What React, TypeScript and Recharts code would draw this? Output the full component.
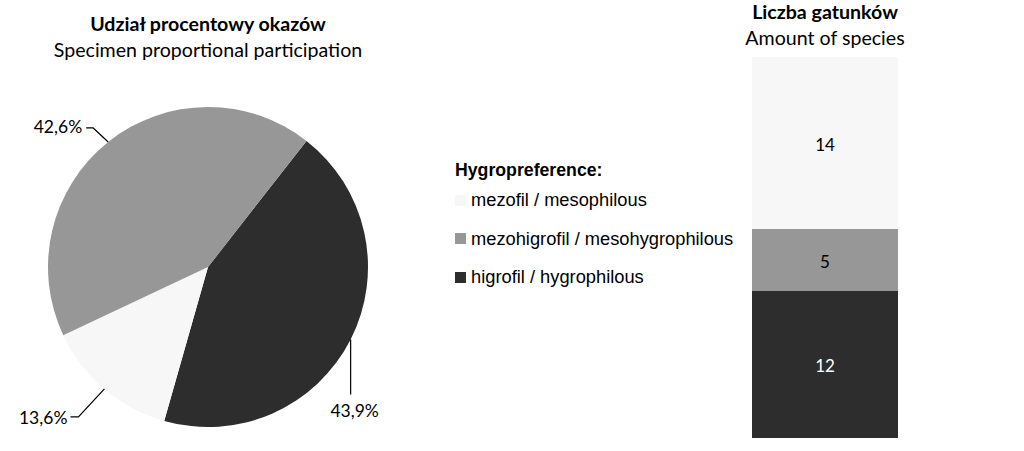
import React from 'react';
import { PieChart, Pie, Cell, BarChart, Bar, XAxis, YAxis, LabelList } from 'recharts';

// categories, in the order the pie draws them (clockwise from upper right)
const categories = ['higrofil / hygrophilous', 'mezofil / mesophilous', 'mezohigrofil / mesohygrophilous'];
const keys = ['higrofil', 'mezofil', 'mezohigrofil'];
const colors = ['#2d2d2d', '#f7f7f7', '#979797'];
const sharePct = [43.9, 13.6, 42.6];
const speciesCount = [12, 14, 5];

// legend order and stacking order (bottom to top) as in the picture
const legendOrder = [1, 2, 0];
const stackOrder = [0, 2, 1];

const pieData = keys.map((k, i) => ({ name: categories[i], value: sharePct[i] }));
const barRow: any = { name: 'gatunki' };
keys.forEach((k, i) => (barRow[k] = speciesCount[i]));
const barData = [barRow];

const CAL = 'Lato, "Open Sans", sans-serif';
const ARIAL = '"Liberation Sans", Arial, sans-serif';

// where each pie label goes, relative to the slice's outer edge
const labelBends = [
  { pts: [[0, 55]], dx: 4, dy: 71, anchor: 'middle' },
  { pts: [[-26, 28], [-34, 28]], dx: -37, dy: 29, anchor: 'end' },
  { pts: [[-15, -14], [-22, -14]], dx: -26, dy: -15, anchor: 'end' },
];

const RAD = Math.PI / 180;

const renderPieLabel = (props: any) => {
  const { cx, cy, midAngle, outerRadius, index } = props;
  const ex = cx + outerRadius * Math.cos(-midAngle * RAD);
  const ey = cy + outerRadius * Math.sin(-midAngle * RAD);
  const b = labelBends[index];
  const pts = [[ex, ey], ...b.pts.map((p) => [ex + p[0], ey + p[1]])];
  return (
    <g key={'lbl' + index}>
      <polyline points={pts.map((p) => p.join(',')).join(' ')} fill="none" stroke="#000" strokeWidth={1.2} />
      <text
        x={ex + b.dx}
        y={ey + b.dy}
        textAnchor={b.anchor}
        dominantBaseline="central"
        fontFamily={CAL}
        fontSize={17.5}
        fill="#000"
      >
        {sharePct[index].toFixed(1).replace('.', ',') + '%'}
      </text>
    </g>
  );
};

const titleStyle: React.CSSProperties = {
  position: 'absolute',
  textAlign: 'center',
  fontFamily: CAL,
  fontSize: 19.6,
  lineHeight: '26px',
  color: '#000',
  whiteSpace: 'nowrap',
};

export default function App() {
  return (
    <div style={{ position: 'absolute', left: 0, top: 0, width: 1024, height: 451, background: '#fff', overflow: 'hidden' }}>
      <div style={{ ...titleStyle, left: 8, width: 400, top: 11 }}>
        <div style={{ fontWeight: 'bold' }}>Udział procentowy okazów</div>
        <div>Specimen proportional participation</div>
      </div>
      <div style={{ position: 'absolute', left: 0, top: 0 }}>
        <PieChart width={430} height={451}>
          <Pie
            data={pieData}
            dataKey="value"
            cx={203}
            cy={262}
            outerRadius={160}
            startAngle={52}
            endAngle={-308}
            stroke="none"
            label={renderPieLabel}
            labelLine={false}
            isAnimationActive={false}
          >
            {pieData.map((d, i) => (
              <Cell key={i} fill={colors[i]} />
            ))}
          </Pie>
        </PieChart>
      </div>

      <div style={{ position: 'absolute', left: 455, top: 158, fontFamily: ARIAL, fontSize: 17.7, color: '#000' }}>
        <div style={{ fontWeight: 'bold', height: 24, lineHeight: '24px' }}>Hygropreference:</div>
        {legendOrder.map((i, n) => (
          <div key={i} style={{ display: 'flex', alignItems: 'center', height: 38.5, marginTop: n === 0 ? -1 : 0 }}>
            <span style={{ width: 11, height: 11, background: colors[i], marginRight: 5, display: 'inline-block' }} />
            <span style={{ fontSize: 18.3 }}>{categories[i]}</span>
          </div>
        ))}
      </div>

      <div style={{ ...titleStyle, left: 725, width: 200, top: -1 }}>
        <div style={{ fontWeight: 'bold' }}>Liczba gatunków</div>
        <div>Amount of species</div>
      </div>
      <div style={{ position: 'absolute', left: 752, top: 57 }}>
        <BarChart width={146} height={381} data={barData} margin={{ top: 0, right: 0, bottom: 0, left: 0 }} barCategoryGap={0}>
          <XAxis dataKey="name" hide />
          <YAxis hide domain={[0, 31]} />
          {stackOrder.map((i) => (
            <Bar key={keys[i]} dataKey={keys[i]} stackId="a" fill={colors[i]} isAnimationActive={false}>
              <LabelList
                dataKey={keys[i]}
                position="center"
                fill={i === 0 ? '#fff' : '#000'}
                fontFamily={CAL}
                fontSize={17}
                dy={2}
              />
            </Bar>
          ))}
        </BarChart>
      </div>
    </div>
  );
}
